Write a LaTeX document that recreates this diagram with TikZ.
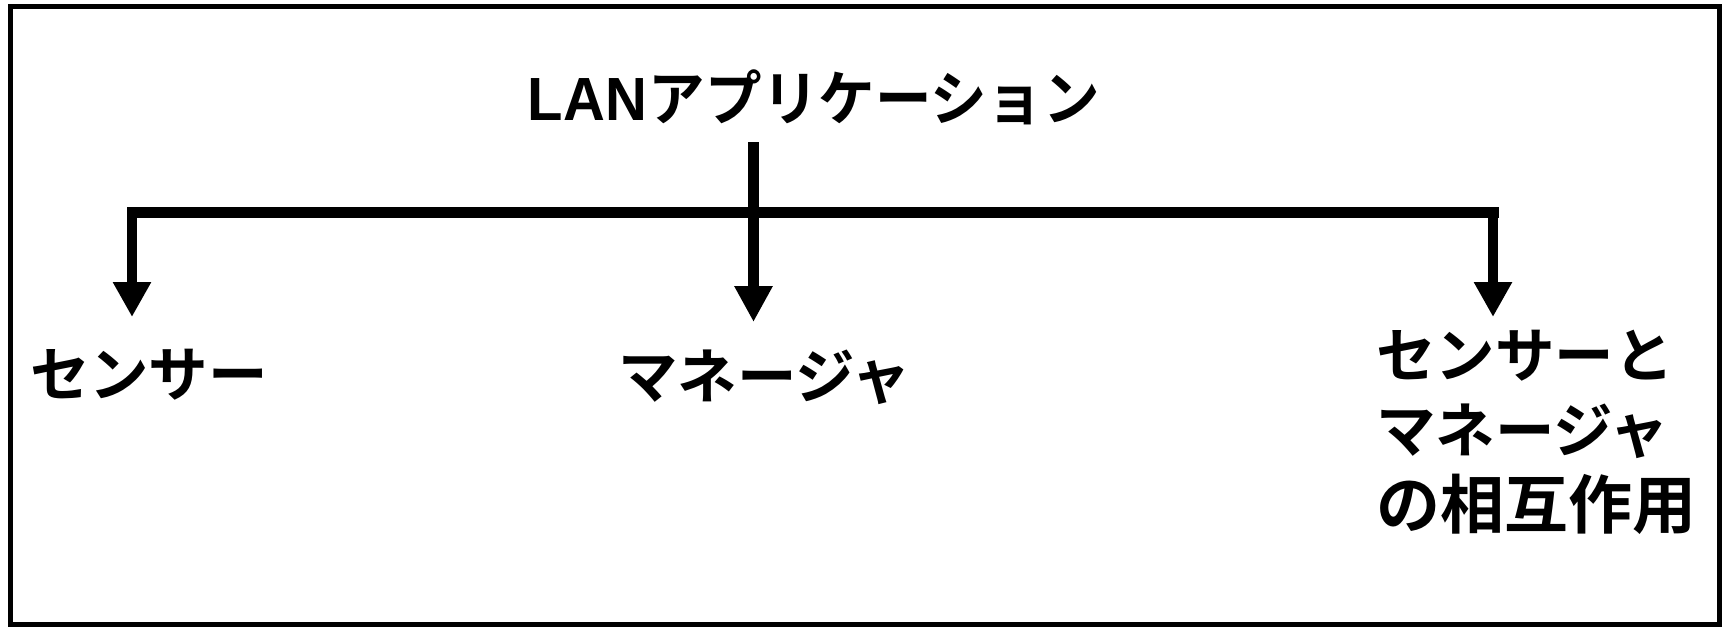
\documentclass[tikz,border=0pt]{standalone}
\usepackage{fontspec}
\usetikzlibrary{arrows.meta}
\newfontfamily\jp{Noto Sans CJK JP}[BoldFont={* Bold}]
\newfontfamily\lat{Liberation Sans}
\tikzset{
  lbl/.style={inner sep=0pt, outer sep=0pt, font=\jp\bfseries\fontsize{59.5}{75.5}\selectfont},
  branch/.style={line width=10.5pt, -{Triangle[width=36pt,length=35pt]}},
}
\begin{document}
\begin{tikzpicture}[x=1pt,y=-1pt]
\useasboundingbox (0,0) rectangle (1727,627);
\draw[line width=5pt] (10.5,6.5) rectangle (1719.5,624.5);
% title
\node[lbl, anchor=base, xscale=0.95] (top) at (814,120) {{\lat\bfseries\fontsize{61}{70}\selectfont LAN}\hspace{2pt}アプリケーション};
\coordinate (topfoot) at (753.5,142);
\coordinate (midtip) at (753.5,322);
\coordinate (barL) at (127,212.5);
\coordinate (barR) at (1498.5,212.5);
\coordinate (jL) at (132,212.5);
\coordinate (jR) at (1493,212.5);
\coordinate (tipL) at (132,317);
\coordinate (tipR) at (1493,317);
% labels
\node[lbl, anchor=base west] (sensor) at (30,396) {センサー};
\node[lbl, anchor=base west] (manager) at (618,398) {マネージャ};
\node[lbl, anchor=north west, align=left] (both) at (1376,330) {センサーと\\マネージャ\\{\fontsize{64}{75.5}\selectfont の相互作用}};
% connectors
\draw[line width=11.5pt] (barL) -- (barR);
\draw[line width=11pt, -{Triangle[width=36pt,length=36pt]}] (topfoot) -- (midtip);
\draw[branch] (jL) -- (tipL);
\draw[branch] (jR) -- (tipR);
\end{tikzpicture}
\end{document}
